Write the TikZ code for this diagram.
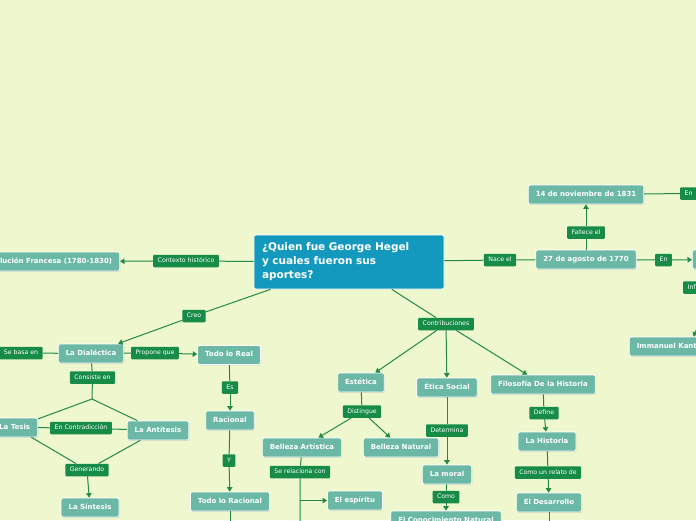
\documentclass[tikz,border=0pt]{standalone}
\usepackage{fontspec}
\setmainfont{DejaVu Sans}
\usetikzlibrary{arrows.meta,shadows}
\definecolor{paper}{RGB}{238,247,206}
\definecolor{tealbox}{RGB}{108,184,167}
\definecolor{taggreen}{RGB}{22,140,72}
\definecolor{wire}{RGB}{35,137,74}
\definecolor{hubblue}{RGB}{19,153,190}

\begin{document}
\begin{tikzpicture}[x=1pt,y=-1pt,
  topic/.style={fill=tealbox,draw=white,line width=.7pt,rounded corners=1.5pt,text=white,
    font=\fontsize{7}{8}\selectfont\bfseries,minimum height=19pt,inner xsep=7.5pt,inner ysep=0pt,
    text height=5.2pt,text depth=1.4pt,drop shadow={shadow xshift=.6pt,shadow yshift=-.9pt,opacity=.3}},
  lbl/.style={fill=taggreen,rounded corners=1pt,text=white,font=\fontsize{6.2}{7}\selectfont,
    minimum height=12.5pt,inner xsep=4.5pt,inner ysep=0pt,text height=4.5pt,text depth=1.2pt},
  ln/.style={wire,line width=1pt},
  arr/.style={ln,-{Triangle[length=4.5pt,width=5.5pt]}}]
  \useasboundingbox (0,0) rectangle (696,520);
  \fill[paper] (0,0) rectangle (696,520);
  \node[fill=hubblue,draw=white,line width=.7pt,rounded corners=2pt,text=white,align=left,
    font=\fontsize{10.5}{14}\selectfont\bfseries,text width=174pt,minimum height=54pt,
    inner xsep=8pt,inner ysep=6pt] (hegel) at (349,262) {¿Quien fue George Hegel\\y cuales fueron sus\\aportes?};
  \node[topic,anchor=east] (rev) at (120,261.5) {Revolución Francesa (1780-1830)};
  \node[lbl] (ctx) at (186,261) {Contexto histórico};
  \node[lbl] (creo) at (194,316) {Creo};
  \node[topic] (dial) at (91,353.5) {La Dialéctica};
  \node[lbl] (basa) at (21,353) {Se basa en};
  \node[lbl] (prop) at (155,353) {Propone que};
  \node[topic] (real) at (229,355) {Todo lo Real};
  \node[lbl] (cons) at (92.5,377.5) {Consiste en};
  \coordinate (fork) at (92,399);
  \node[topic,anchor=east] (tesis) at (38,427.5) {La Tesis};
  \node[lbl] (contra) at (81,428) {En Contradicción};
  \node[topic] (anti) at (158,430.5) {La Antítesis};
  \node[lbl] (gen) at (87,470) {Generando};
  \node[topic] (sint) at (90,507.5) {La Síntesis};
  \node[lbl] (es) at (230,387.5) {Es};
  \node[topic] (rac) at (230,420.5) {Racional};
  \node[lbl] (y) at (229,460.5) {Y};
  \node[topic] (todorac) at (230,501.5) {Todo lo Racional};
  \coordinate (racdown) at (230,530);
  \node[lbl] (contrib) at (446,324) {Contribuciones};
  \node[topic] (est) at (361,382.5) {Estética};
  \node[topic] (etica) at (447,387.5) {Ética Social};
  \node[topic] (filo) at (543,384.5) {Filosofía De la Historia};
  \node[lbl] (dist) at (362,411.5) {Distingue};
  \node[topic] (bart) at (302,447.5) {Belleza Artística};
  \node[topic] (bnat) at (401,447.5) {Belleza Natural};
  \node[lbl] (serel) at (300,472) {Se relaciona con};
  \coordinate (artfork) at (300,500.5); \coordinate (artdown) at (300,530);
  \node[topic] (esp) at (355,500.5) {El espíritu};
  \node[lbl] (det) at (447,430.5) {Determina};
  \node[topic] (moral) at (447,474.5) {La moral};
  \node[lbl] (como) at (446,497) {Como};
  \node[topic] (conoc) at (446,520.5) {El Conocimiento Natural};
  \node[lbl] (def) at (544,413) {Define};
  \node[topic] (hist) at (547,441.5) {La Historia};
  \node[lbl] (relato) at (548,472.5) {Como un relato de};
  \node[topic] (desar) at (549,502.5) {El Desarrollo};
  \coordinate (desdown) at (549,530);
  \node[lbl] (nace) at (500,260) {Nace el};
  \node[topic] (nac) at (586,259.5) {27 de agosto de 1770};
  \node[lbl] (fall) at (586,232.5) {Fallece el};
  \node[topic] (muerte) at (586,194.5) {14 de noviembre de 1831};
  \node[lbl,anchor=west] (en1) at (680,193.5) {En};
  \coordinate (en1out) at (730,193.5);
  \node[lbl] (en2) at (663.5,260) {En};
  \node[topic,anchor=west,minimum width=50pt] (lugar) at (692,259.5) {};
  \node[lbl,anchor=west] (infl) at (683,287.5) {Influenciado por};
  \node[topic,anchor=west] (kant) at (629,346.5) {Immanuel Kant};
  \draw[ln] (hegel) -- (ctx); \draw[arr] (ctx) -- (rev);
  \draw[ln] (hegel) -- (creo); \draw[arr] (creo) -- (dial);
  \draw[ln] (dial) -- (basa);
  \draw[ln] (dial) -- (prop); \draw[arr] (prop) -- (real);
  \draw[ln] (dial) -- (cons) -- (fork);
  \draw[ln] (fork) -- (tesis); \draw[ln] (fork) -- (anti);
  \draw[ln] (tesis) -- (contra) -- (anti);
  \draw[ln] (tesis) -- (gen); \draw[ln] (anti) -- (gen);
  \draw[arr] (gen) -- (sint);
  \draw[ln] (real) -- (es); \draw[arr] (es) -- (rac);
  \draw[ln] (rac) -- (y); \draw[arr] (y) -- (todorac);
  \draw[ln] (todorac) -- (racdown);
  \draw[ln] (hegel) -- (contrib);
  \draw[arr] (contrib) -- (est); \draw[arr] (contrib) -- (etica); \draw[arr] (contrib) -- (filo);
  \draw[ln] (est) -- (dist); \draw[arr] (dist) -- (bart); \draw[arr] (dist) -- (bnat);
  \draw[ln] (bart) -- (serel) -- (artdown); \draw[arr] (artfork) -- (esp);
  \draw[ln] (etica) -- (det); \draw[arr] (det) -- (moral);
  \draw[ln] (moral) -- (como); \draw[arr] (como) -- (conoc);
  \draw[ln] (filo) -- (def); \draw[arr] (def) -- (hist);
  \draw[ln] (hist) -- (relato); \draw[arr] (relato) -- (desar);
  \draw[ln] (desar) -- (desdown);
  \draw[ln] (hegel) -- (nace) -- (nac);
  \draw[ln] (nac) -- (fall); \draw[arr] (fall) -- (muerte);
  \draw[ln] (muerte) -- (en1) -- (en1out);
  \draw[ln] (nac) -- (en2); \draw[arr] (en2) -- (lugar);
  \draw[ln] (lugar) -- (infl); \draw[arr] (infl) -- ([xshift=-11pt]kant.north east);
\end{tikzpicture}
\end{document}
